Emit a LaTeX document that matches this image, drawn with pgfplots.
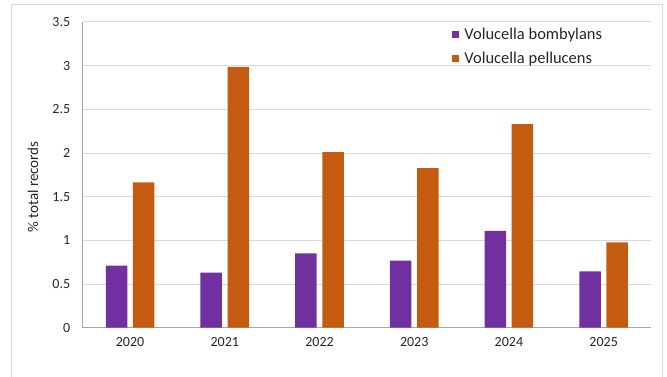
\documentclass[border=0pt]{standalone}
\usepackage{fontspec}
\setmainfont{Carlito}
\usepackage{pgfplots}
\pgfplotsset{compat=1.18}
\definecolor{vbpurple}{HTML}{7030A0}
\definecolor{vporange}{HTML}{C55A11}
\definecolor{gridc}{HTML}{D9D9D9}
\definecolor{axisc}{HTML}{A6A6A6}
\definecolor{textc}{HTML}{262626}
\begin{document}
\begin{tikzpicture}[x=1bp,y=1bp]
\useasboundingbox (-82.7,-48.3) rectangle (584.3,327.7);
\draw[gridc, line width=1bp] (-70.7,-60) -- (-70.7,322.7) -- (579.3,322.7) -- (579.3,-60);
\begin{axis}[
  at={(0,0)}, anchor=south west,
  scale only axis, width=568.3bp, height=305.7bp,
  ybar=0pt, bar width=0.227,
  xmin=-0.5, xmax=5.5, ymin=0, ymax=3.5,
  ytick={0,0.5,1,1.5,2,2.5,3,3.5},
  xtick={0,1,2,3,4,5},
  xticklabels={2020,2021,2022,2023,2024,2025},
  axis lines*=left,
  axis line style={axisc, line width=1bp},
  major tick length=0pt,
  ymajorgrids, grid style={gridc, line width=1bp},
  /pgf/number format/assume math mode=true,
  yticklabel style={font=\fontsize{14bp}{16bp}\selectfont, text=textc, xshift=-9bp,
    /pgf/number format/fixed},
  xticklabel style={font=\fontsize{14bp}{16bp}\selectfont, text=textc, yshift=-6bp},
  ylabel={\% total records},
  ylabel style={at={(axis description cs:-0.0875,0.46)}, anchor=center, rotate=0,
    font=\fontsize{15bp}{17bp}\selectfont, text=textc},
  legend style={at={(0.645,0.995)}, anchor=north west, draw=none, fill=none,
    font=\fontsize{16.5bp}{19bp}\selectfont, text=textc, row sep=7bp,
    /tikz/every odd column/.append style={column sep=3bp}},
  legend cell align=left,
]
\addplot[fill=vbpurple, draw=none, bar shift=-0.143,
  legend image code/.code={\fill[vbpurple] (0bp,-3.5bp) rectangle (7bp,3.5bp);}]
  coordinates {(0,0.71) (1,0.63) (2,0.852) (3,0.767) (4,1.11) (5,0.646)};
\addlegendentry{Volucella bombylans}
\addplot[fill=vporange, draw=none, bar shift=0.143,
  legend image code/.code={\fill[vporange] (0bp,-3.5bp) rectangle (7bp,3.5bp);}]
  coordinates {(0,1.665) (1,2.985) (2,2.01) (3,1.826) (4,2.33) (5,0.978)};
\addlegendentry{Volucella pellucens}
\end{axis}
\end{tikzpicture}
\end{document}
